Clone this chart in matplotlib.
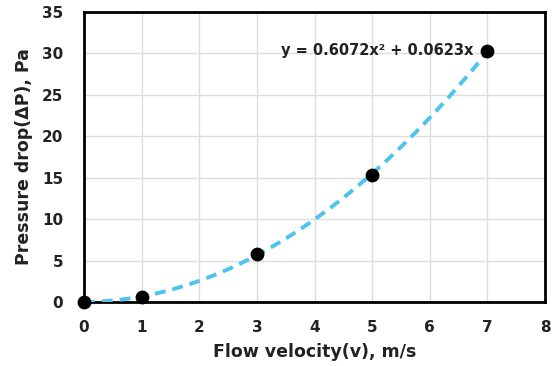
import numpy as np
import matplotlib.pyplot as plt

plt.rcParams['font.family'] = ['DejaVu Sans']

# measured points
velocity = [0, 1, 3, 5, 7]
pressure_drop = [0.0, 0.6, 5.8, 15.3, 30.3]

# trendline coefficients as shown on chart
coef_a = 0.6072
coef_b = 0.0623
trend_label = "y = 0.6072x² + 0.0623x"

fig = plt.figure(figsize=(5.57, 3.66), dpi=100)
ax = fig.add_axes([84/557, 1 - 302/366, (545-84)/557, (302-12)/366])

xs = np.linspace(min(velocity), max(velocity), 200)
ax.plot(xs, coef_a*xs**2 + coef_b*xs, color="#4DC3EE", lw=2.8,
        dashes=(2.8, 1.8), zorder=3)
ax.scatter(velocity, pressure_drop, s=80, color="black", zorder=4, clip_on=False)

ax.set_xlim(0, 8)
ax.set_ylim(0, 35)
ax.set_xticks(range(0, 9))
ax.set_yticks(range(0, 36, 5))
ax.grid(True, color="#dddddd", lw=1)
ax.set_axisbelow(True)
ax.tick_params(length=0, labelsize=11, labelcolor="#222222")
ax.tick_params(axis="x", pad=13)
ax.tick_params(axis="y", pad=15)
for lbl in ax.get_xticklabels() + ax.get_yticklabels():
    lbl.set_fontweight("bold")
for sp in ax.spines.values():
    sp.set_linewidth(2)
    sp.set_color("black")

ax.set_xlabel("Flow velocity(v), m/s", fontsize=12.5, fontweight="bold", labelpad=6, color="#222222")
ax.set_ylabel("Pressure drop(ΔP), Pa", fontsize=12.5, fontweight="bold", labelpad=6, color="#222222")

ax.text(6.75, 30.3, trend_label, fontsize=10.5, fontweight="bold", ha="right", va="center",
        color="#222222")

fig.savefig("out.png", dpi=100)
